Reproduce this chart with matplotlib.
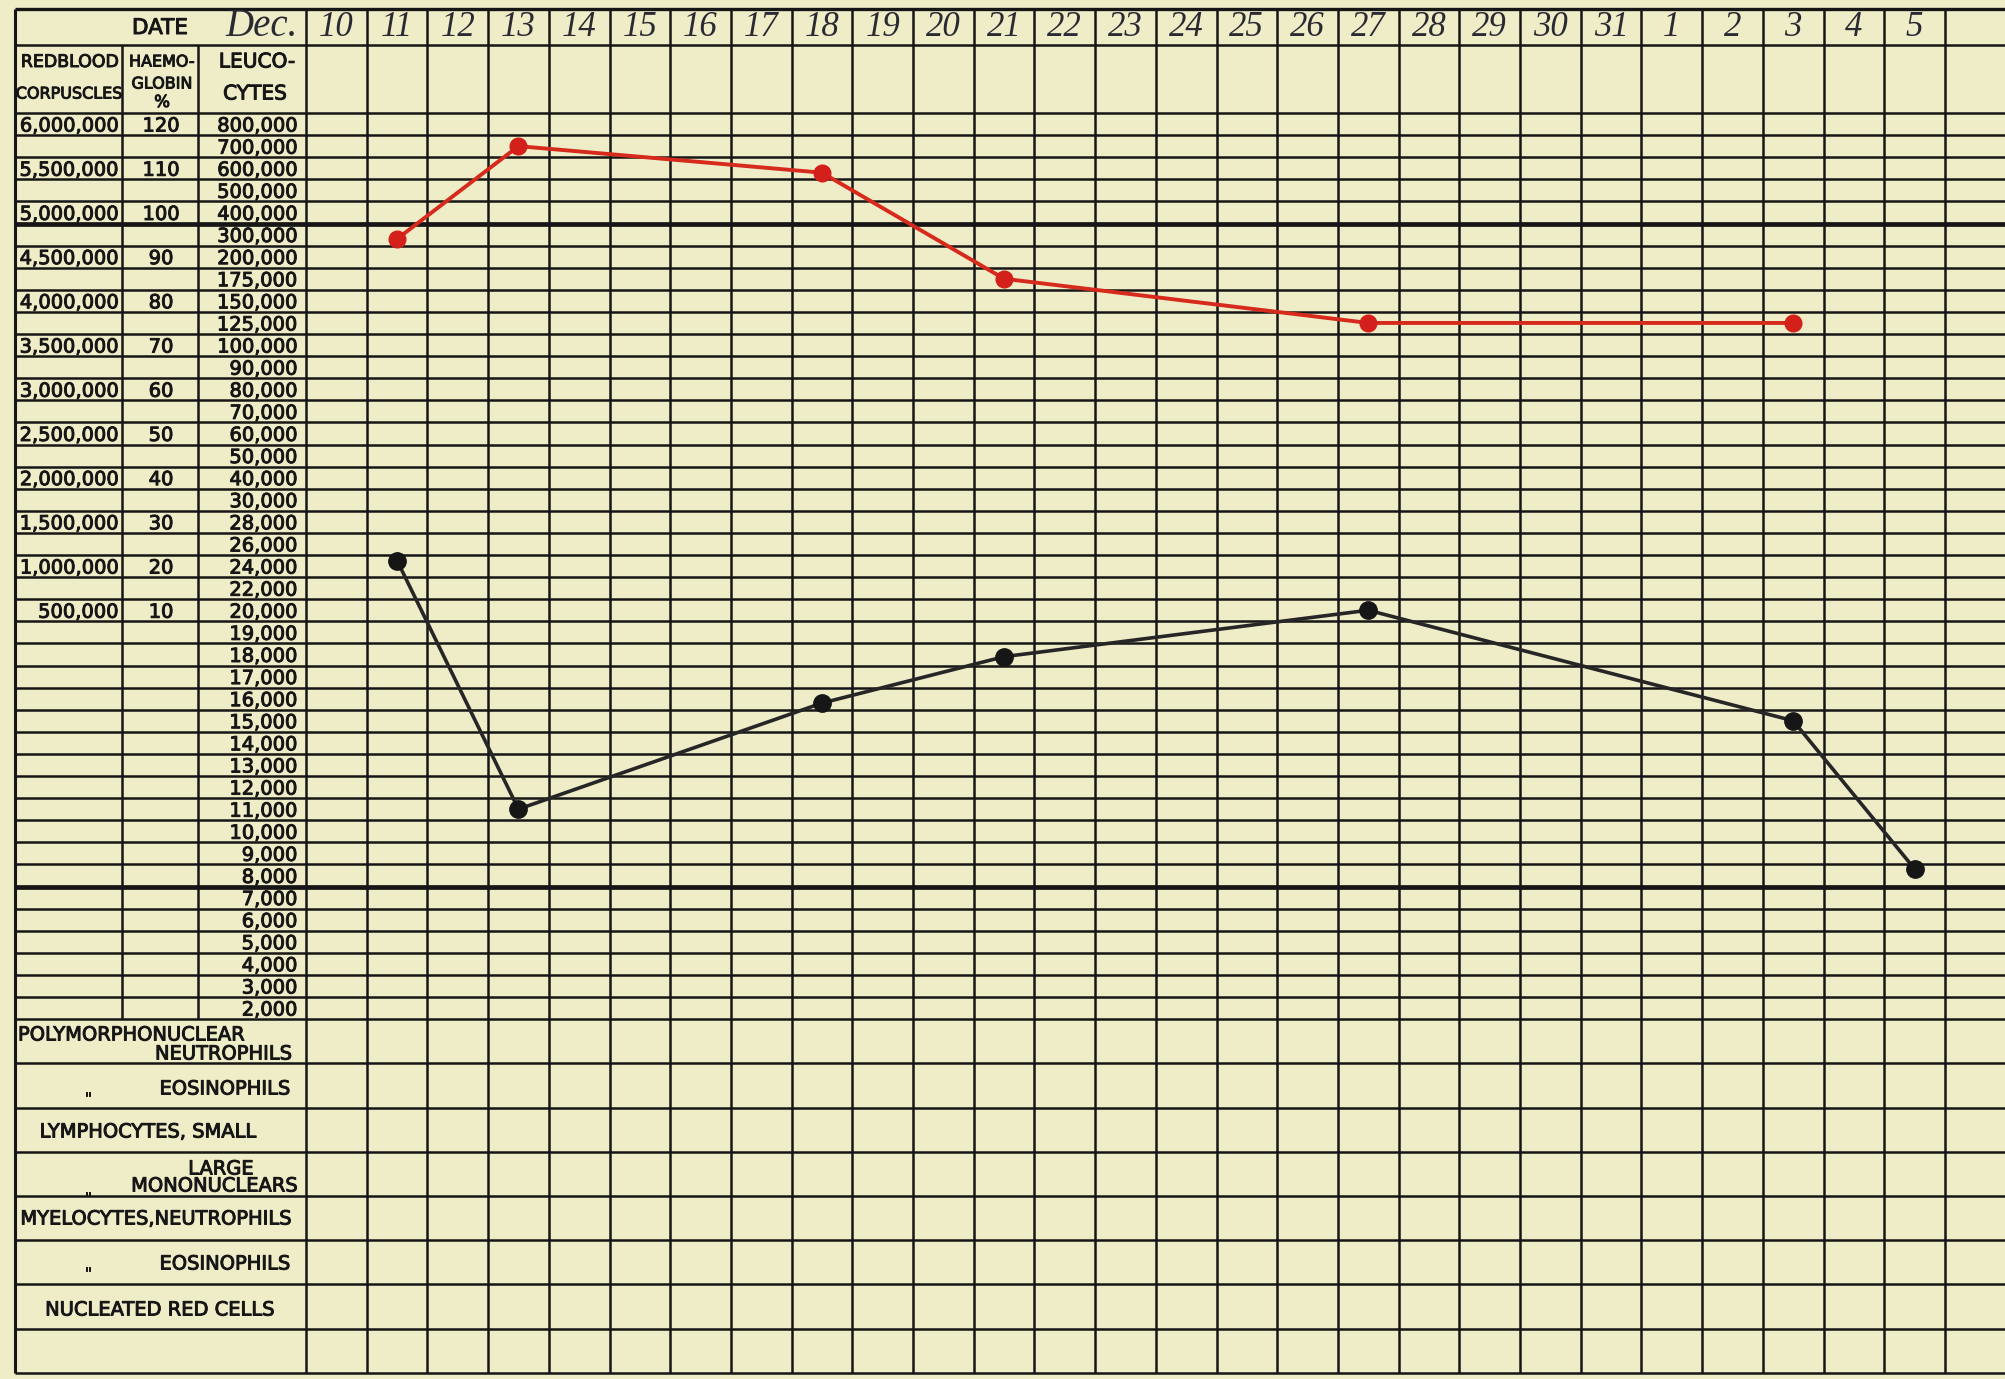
import numpy as np
import matplotlib
matplotlib.use("Agg")
import matplotlib.pyplot as plt
import matplotlib.patheffects as pe

# ---------------- data ----------------
dates = ["10", "11", "12", "13", "14", "15", "16", "17", "18", "19", "20", "21",
         "22", "23", "24", "25", "26", "27", "28", "29", "30", "31",
         "1", "2", "3", "4", "5"]
month_label = "Dec."

rbc_ticks = [6000000, 5500000, 5000000, 4500000, 4000000, 3500000, 3000000,
             2500000, 2000000, 1500000, 1000000, 500000]
haemo_ticks = [120, 110, 100, 90, 80, 70, 60, 50, 40, 30, 20, 10]
leuco_ticks = [800000, 700000, 600000, 500000, 400000, 300000, 200000, 175000,
               150000, 125000, 100000, 90000, 80000, 70000, 60000, 50000, 40000,
               30000, 28000, 26000, 24000, 22000, 20000, 19000, 18000, 17000,
               16000, 15000, 14000, 13000, 12000, 11000, 10000, 9000, 8000,
               7000, 6000, 5000, 4000, 3000, 2000]

# red blood corpuscles (red line)
rbc_days = ["11", "13", "18", "21", "27", "3"]
rbc_values = [4700000, 5750000, 5450000, 4250000, 3750000, 3750000]

# leucocytes (black line)
leuco_days = ["11", "13", "18", "21", "27", "3", "5"]
leuco_values = [24500, 11000, 15800, 17900, 20000, 15000, 8300]

differential_labels = ["POLYMORPHONUCLEAR", "NEUTROPHILS", '"', "EOSINOPHILS",
                       "LYMPHOCYTES, SMALL", "LARGE", "MONONUCLEARS", '"',
                       "MYELOCYTES,NEUTROPHILS", '"', "EOSINOPHILS",
                       "NUCLEATED RED CELLS"]

# ---------------- layout ----------------
W, H = 2005, 1379
PX0, COLW = 306.0, 60.7     # left edge of first date column, column width (px)
PY0, ROWH = 113.0, 22.1     # top of first scale row, row height (px)


def X(px):
    return (px - PX0) / COLW


def Y(py):
    return (py - PY0) / ROWH


BG = "#efecc8"
INK = "#161616"
RED = "#d62a1c"
N_ROWS = len(leuco_ticks)          # 41 scale rows
N_BOTTOM = 8                       # double rows of the differential count
BOTTOM = N_ROWS + 2 * N_BOTTOM
N_COLS = len(dates)

fig = plt.figure(figsize=(W / 100, H / 100), dpi=100)
fig.patch.set_facecolor(BG)
ax = fig.add_axes([0, 0, 1, 1])
ax.set_facecolor(BG)
ax.set_xlim(X(0), X(W))
ax.set_ylim(Y(H), Y(0))
ax.axis("off")

lw = 1.8
x_left, x_right = X(15), X(W)
y_top, y_hdr = Y(9), Y(45)

# horizontal rules
ax.hlines([y_top], x_left, x_right, color=INK, lw=2.4)
ax.hlines([y_hdr], x_left, x_right, color=INK, lw=lw)
for r in range(N_ROWS + 1):
    ax.hlines(r, x_left, x_right, color=INK, lw=3.4 if r in (5, 35) else lw)
for k in range(1, N_BOTTOM + 1):
    ax.hlines(N_ROWS + 2 * k, x_left, x_right, color=INK, lw=lw)

# vertical rules
ax.vlines([x_left], y_top, BOTTOM, color=INK, lw=2.2)
ax.vlines([X(122), X(198)], y_hdr, N_ROWS, color=INK, lw=lw)
for c in range(N_COLS + 1):
    ax.vlines(c, y_top, BOTTOM, color=INK, lw=lw)

stroke = [pe.withStroke(linewidth=0.7, foreground=INK)]
txt = dict(color=INK, family="DejaVu Sans", path_effects=stroke)
hand = dict(family="Liberation Serif", style="italic", color="#2a2a33")

# header
ax.text(X(160), Y(28), "DATE", ha="center", va="center", fontsize=15.5, **txt)
ax.text(X(262), Y(27), month_label, ha="center", va="center", fontsize=28, **hand)
for i, d in enumerate(dates):
    ax.text(i + 0.5, Y(28), d, ha="center", va="center", fontsize=25, **hand)

ax.text(X(70), Y(62), "REDBLOOD", ha="center", va="center", fontsize=12.5, **txt)
ax.text(X(69), Y(94), "CORPUSCLES", ha="center", va="center", fontsize=11.5, **txt)
ax.text(X(162), Y(62), "HAEMO-", ha="center", va="center", fontsize=11.5, **txt)
ax.text(X(162), Y(84), "GLOBIN", ha="center", va="center", fontsize=11.5, **txt)
ax.text(X(162), Y(102), "%", ha="center", va="center", fontsize=12, **txt)
ax.text(X(257), Y(62), "LEUCO-", ha="center", va="center", fontsize=14.5, **txt)
ax.text(X(255), Y(94), "CYTES", ha="center", va="center", fontsize=14.5, **txt)

# scale labels
for i, v in enumerate(rbc_ticks):
    ax.text(X(118), 2 * i + 0.5, f"{v:,}", ha="right", va="center_baseline",
            fontsize=14, **txt)
for i, v in enumerate(haemo_ticks):
    ax.text(X(161), 2 * i + 0.5, str(v), ha="center", va="center_baseline",
            fontsize=14, **txt)
for i, v in enumerate(leuco_ticks):
    ax.text(X(297), i + 0.5, f"{v:,}", ha="right", va="center_baseline",
            fontsize=14, **txt)

# differential count labels (position, alignment per label)
diff_layout = [(18, 1033, "left"), (292, 1052, "right"), (88, 1097, "center"),
               (290, 1087, "right"), (148, 1130, "center"), (221, 1167, "center"),
               (298, 1184, "right"), (88, 1197, "center"), (156, 1217, "center"),
               (88, 1272, "center"), (290, 1262, "right"), (160, 1308, "center")]
for lab, (px, py, ha) in zip(differential_labels, diff_layout):
    ax.text(X(px), Y(py), lab, ha=ha, va="center_baseline",
            fontsize=10 if len(lab) == 1 else 14, **txt)

# ---------------- series ----------------
rbc_rows = 0.5 + 2 * np.arange(len(rbc_ticks))
leuco_rows = 0.5 + np.arange(len(leuco_ticks))

rx = [dates.index(d) + 0.5 for d in rbc_days]
ry = np.interp(rbc_values, rbc_ticks[::-1], rbc_rows[::-1])
lx = [dates.index(d) + 0.5 for d in leuco_days]
ly = np.interp(leuco_values, leuco_ticks[::-1], leuco_rows[::-1])

ax.plot(rx, ry, color=RED, lw=2.8, marker="o", ms=12, mfc="#d3201a",
        mec="#d3201a", zorder=5, solid_capstyle="round")
ax.plot(lx, ly, color="#262626", lw=2.6, marker="o", ms=12.5, mfc="#161616",
        mec="#161616", zorder=5, solid_capstyle="round")

fig.savefig("out.png", dpi=100, facecolor=BG)
